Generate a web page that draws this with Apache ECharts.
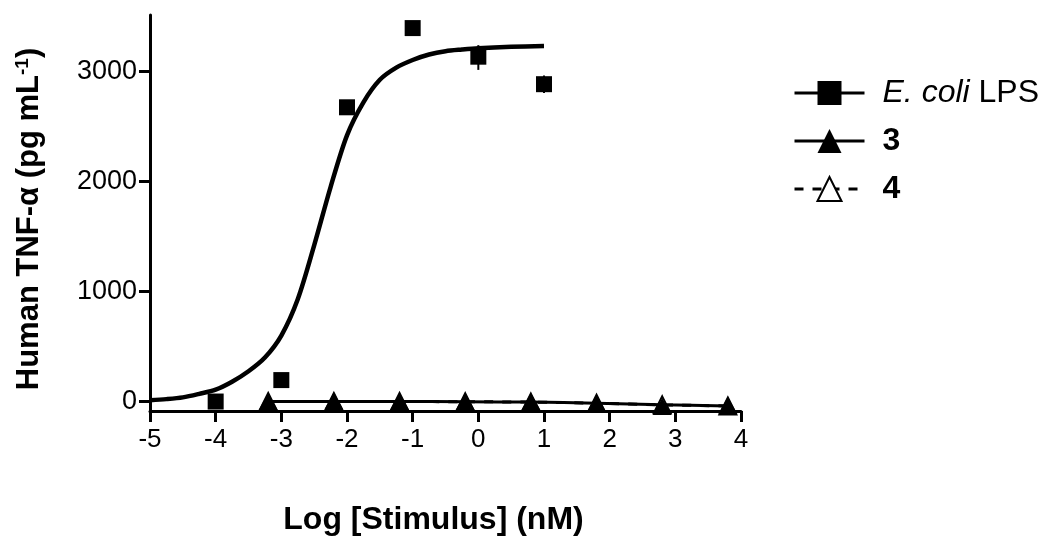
<!DOCTYPE html>
<html>
<head>
<meta charset="utf-8">
<script src="https://cdn.jsdelivr.net/npm/echarts@6/dist/echarts.min.js"></script>
<style>
html,body{margin:0;padding:0;background:#fff;}
#chart{width:1050px;height:546px;}
</style>
</head>
<body>
<div id="chart"></div>
<script>
// ---- data ----
const xTicks = [-5, -4, -3, -2, -1, 0, 1, 2, 3, 4];
const yTicks = [0, 1000, 2000, 3000];

// E. coli LPS measured points (log nM, pg/mL) and error bars
const lpsX = [-4, -3, -2, -1, 0, 1];
const lpsY = [0, 195, 2675, 3395, 3135, 2885];
const lpsErrLow  = [0, 195, 2675, 3395, 3015, 2805];
const lpsErrHigh = [0, 195, 2675, 3395, 3240, 2965];

// E. coli LPS fitted curve
const lpsFitX = [-5.0, -4.75, -4.5, -4.25, -4.0, -3.75, -3.5, -3.25, -3.0, -2.75, -2.5, -2.25, -2.0, -1.75, -1.5, -1.25, -1.0, -0.75, -0.5, -0.25, 0.0, 0.5, 1.0];
const lpsFitY = [12, 22, 38, 70, 108, 180, 275, 400, 600, 930, 1420, 1950, 2420, 2720, 2925, 3035, 3105, 3155, 3185, 3200, 3212, 3225, 3232];

// compound 3 points and fit
const c3X = [-3.2, -2.2, -1.2, -0.2, 0.8, 1.8, 2.8, 3.8];
const c3Y = [0, 5, 0, 0, 0, -15, -45, -35];
const c3FitX = [-3.2, -2.2, -1.2, -0.2, 0.8, 1.8, 2.8, 3.8];
const c3FitY = [0, 0, 0, -2, -5, -15, -30, -40];

// compound 4 (hidden underneath compound 3 in the figure)
const c4X = [-3.2, -2.2, -1.2, -0.2, 0.8, 1.8, 2.8, 3.8];
const c4Y = [0, 0, 0, -2, -5, -15, -30, -40];

const legendNames = ['E. coli LPS', '3', '4'];

// ---- build ----
const zip = (a, b) => a.map((v, i) => [v, b[i]]);
const chart = echarts.init(document.getElementById('chart'), null, {renderer: 'canvas'});
const FONT = 'Liberation Sans, Arial, sans-serif';

const option = {
  animation: false,
  backgroundColor: '#fff',
  grid: {left: 150, right: 309, top: 15, bottom: 135, containLabel: false, outerBoundsMode: 'none'},
  legend: {
    data: [
      {name: legendNames[0]},
      {name: legendNames[1]},
      {name: legendNames[2], itemStyle: {color: '#000'},
        lineStyle: {type: [9, 9], dashOffset: 0, color: '#000', width: 3}}
    ],
    orient: 'vertical',
    left: 788,
    top: 72,
    itemWidth: 70,
    itemHeight: 30,
    itemGap: 16,
    lineStyle: {color: '#000', width: 3},
    textStyle: {
      fontFamily: FONT, fontSize: 32, color: '#000', fontWeight: 'bold',
      padding: [0, 0, 0, 13],
      rich: {
        i: {fontFamily: FONT, fontSize: 32, fontStyle: 'italic', fontWeight: 'normal', color: '#000'},
        n: {fontFamily: FONT, fontSize: 32, fontWeight: 'normal', color: '#000'}
      }
    },
    formatter: function (name) {
      if (name === 'E. coli LPS') return '{i|E. coli}{n| LPS}';
      return name;
    }
  },
  xAxis: {
    type: 'value',
    min: -5, max: 4, interval: 1,
    name: 'Log [Stimulus] (nM)',
    nameLocation: 'middle',
    nameGap: 93,
    nameTextStyle: {fontFamily: FONT, fontSize: 32, fontWeight: 'bold', color: '#000', padding: [0, 24, 0, 0]},
    axisLine: {onZero: false, lineStyle: {color: '#000', width: 3}},
    axisTick: {show: true, length: 11, lineStyle: {color: '#000', width: 3}},
    axisLabel: {fontFamily: FONT, fontSize: 26, color: '#000', margin: 16,
      customValues: xTicks, formatter: v => String(v)},
    splitLine: {show: false}
  },
  yAxis: {
    type: 'value',
    min: -86, max: 3514,
    name: 'Human TNF-α (pg mL{s|-1})',
    nameLocation: 'middle',
    nameGap: 104,
    nameRotate: 90,
    nameTextStyle: {fontFamily: FONT, fontSize: 31, fontWeight: 'bold', color: '#000',
      padding: [0, 12, 0, 0],
      rich: {s: {fontFamily: FONT, fontSize: 19, fontWeight: 'bold', color: '#000', verticalAlign: 'top', padding: [0, 0, 14, 0]}}},
    axisLine: {onZero: false, lineStyle: {color: '#000', width: 3}},
    axisTick: {show: true, length: 11, lineStyle: {color: '#000', width: 3}, customValues: yTicks},
    axisLabel: {fontFamily: FONT, fontSize: 27, color: '#000', margin: 13, customValues: yTicks,
      formatter: v => String(v)},
    splitLine: {show: false}
  },
  series: [
    {
      name: '4', type: 'line', data: zip(c4X, c4Y),
      smooth: 0.3, symbol: 'emptyTriangle', symbolSize: 17, showSymbol: true,
      itemStyle: {color: '#000'},
      lineStyle: {color: '#000', width: 3, type: [9, 9]},
      z: 1
    },
    {
      name: 'E. coli LPS', type: 'line', data: zip(lpsFitX, lpsFitY),
      smooth: 0.3, symbol: 'rect', showSymbol: false,
      itemStyle: {color: '#000'},
      lineStyle: {color: '#000', width: 4.5},
      z: 3
    },
    {
      name: 'lpsPts', type: 'scatter', data: zip(lpsX, lpsY),
      symbol: 'rect', symbolSize: 16,
      itemStyle: {color: '#000', opacity: 1}, z: 4
    },
    {
      name: 'lpsErr', type: 'custom',
      data: lpsX.map((x, i) => [x, lpsErrLow[i], lpsErrHigh[i]]),
      renderItem: function (params, api) {
        const p1 = api.coord([api.value(0), api.value(1)]);
        const p2 = api.coord([api.value(0), api.value(2)]);
        return {type: 'line', shape: {x1: p1[0], y1: p1[1], x2: p2[0], y2: p2[1]},
          style: {stroke: '#000', lineWidth: 2}};
      },
      z: 4
    },
    {
      name: '3', type: 'line', data: zip(c3FitX, c3FitY),
      smooth: 0.3, symbol: 'triangle', showSymbol: false,
      itemStyle: {color: '#000'},
      lineStyle: {color: '#000', width: 3},
      z: 2
    },
    {
      name: 'c3Pts', type: 'scatter', data: zip(c3X, c3Y),
      symbol: 'triangle', symbolSize: [19, 17],
      itemStyle: {color: '#000', opacity: 1}, z: 4
    }
  ]
};
chart.setOption(option);
</script>
</body>
</html>
